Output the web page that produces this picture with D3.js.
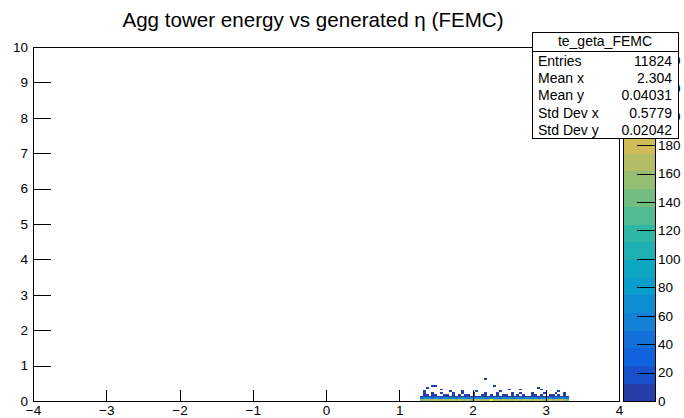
<!DOCTYPE html>
<html>
<head>
<meta charset="utf-8">
<script src="https://cdn.jsdelivr.net/npm/d3@7"></script>
<style>
  body { margin: 0; background: #fff; }
  svg { display: block; }
  text { font-family: "Liberation Sans", Arial, Helvetica, sans-serif; fill: #000; }
</style>
</head>
<body>
<svg id="chart" width="684" height="418"></svg>
<script>
// ---- histogram definition ----
const xDomain = [-4, 4];
const yDomain = [0, 10];
const binW = 0.04;          // eta bin width
const binH = 0.05;          // energy bin width
const xStart = 1.28;        // left edge of the first filled eta column

// counts per eta column (51 columns from 1.28 to 3.32), one array per energy row
const row0 = [148,162,171,155,166,180,159,173,168,152,177,164,158,186,170,161,175,149,169,182,163,157,174,166,249,160,171,153,179,165,168,158,183,172,150,176,164,169,155,181,162,174,159,167,185,156,170,163,178,152,141];
const row1 = [46,58,52,61,49,66,55,43,70,57,51,63,48,59,67,54,45,62,71,50,56,64,47,60,53,68,58,44,65,52,57,61,49,72,55,46,63,59,51,66,48,58,62,54,69,45,60,53,57,50,41];
const row2 = [6,3,8,4,1,5,7,2,6,9,3,5,4,8,2,6,5,7,3,4,9,6,2,5,8,4,6,3,7,5,2,8,6,4,5,3,7,9,4,6,2,5,8,3,6,4,7,5,3,6,2];
const row3 = [0,2,1,0,3,1,0,0,2,1,0,1,0,2,0,1,3,0,1,0,0,2,1,0,1,0,2,0,1,1,0,3,0,1,0,2,0,0,1,2,0,1,0,0,2,1,0,1,0,1,0];
const row4 = [0,1,0,0,1,0,0,1,0,0,0,1,0,0,1,0,0,0,1,0,0,0,1,0,0,0,1,0,0,0,0,1,0,0,1,0,0,0,1,0,0,0,1,0,0,0,1,0,0,1,0];
const rows = [row0, row1, row2, row3, row4];

// isolated entries higher up: [eta bin left edge, energy bin bottom, count]
const strays = [
  [2.16, 0.60, 1], [1.44, 0.40, 1], [1.48, 0.40, 1], [1.36, 0.35, 1],
  [2.28, 0.40, 1], [2.88, 0.35, 1], [1.56, 0.30, 1], [2.48, 0.30, 1],
  [2.92, 0.30, 1], [3.16, 0.25, 1], [1.32, 0.25, 1], [2.04, 0.25, 1],
  [1.84, 0.25, 1], [2.64, 0.30, 1], [1.68, 0.25, 1], [2.36, 0.25, 1]
];

const titleText = "Agg tower energy vs generated \u03b7 (FEMC)";
const statsTitle = "te_geta_FEMC";
const statsLabels = ["Entries", "Mean x", "Mean y", "Std Dev x", "Std Dev y"];
const statsValues = ["11824", "2.304", "0.04031", "0.5779", "0.02042"];
const xTicks = d3.range(-4, 5, 1);
const yTicks = d3.range(0, 11, 1);
const nLevels = 20;

// ---- layout ----
const svg = d3.select("#chart");
const L = 33, R = 619, T = 47, B = 401;
const palL = 623, palR = 655;

const x = d3.scaleLinear().domain(xDomain).range([L, R]);
const y = d3.scaleLinear().domain(yDomain).range([B, T]);

// bird palette stops
const birdR = [0.2082, 0.0592, 0.0780, 0.0232, 0.1802, 0.5301, 0.8186, 0.9956, 0.9764];
const birdG = [0.1664, 0.3599, 0.5041, 0.6419, 0.7178, 0.7492, 0.7328, 0.7862, 0.9832];
const birdB = [0.5293, 0.8684, 0.8385, 0.7914, 0.6425, 0.4662, 0.3499, 0.1968, 0.0539];
function bird(t) {
  const s = t * (birdR.length - 1);
  const i = Math.min(Math.floor(s), birdR.length - 2);
  const f = s - i;
  const c = a => Math.round(255 * (a[i] + (a[i + 1] - a[i]) * f));
  return `rgb(${c(birdR)},${c(birdG)},${c(birdB)})`;
}

// cells
const cells = [];
rows.forEach((r, j) => r.forEach((c, i) => {
  if (c > 0) cells.push({ x0: xStart + i * binW, y0: j * binH, c });
}));
strays.forEach(([sx, sy, c]) => cells.push({ x0: sx, y0: sy, c }));

const zMax = d3.max(cells, d => d.c);
const z = d3.scaleLinear().domain([0, zMax]).range([B, T]);
const levelW = zMax / nLevels;
function levelColor(k) {
  const idx = Math.floor((k + 0.99) * 255 / nLevels);
  return bird(Math.min(idx, 254) / 254);
}
function cellColor(c) {
  const k = Math.min(Math.floor(c / levelW), nLevels - 1);
  return levelColor(k);
}

// title
svg.append("text")
  .attr("x", 313).attr("y", 27)
  .attr("text-anchor", "middle")
  .style("font-size", "20.6px")
  .text(titleText);

// histogram cells
svg.append("g").attr("shape-rendering", "crispEdges")
  .selectAll("rect").data(cells).join("rect")
  .attr("x", d => x(d.x0))
  .attr("y", d => y(d.y0 + binH))
  .attr("width", d => x(d.x0 + binW) - x(d.x0))
  .attr("height", d => y(d.y0) - y(d.y0 + binH))
  .attr("fill", d => cellColor(d.c));

// axes
const minorX = d3.range(-4, 4.0001, 0.2).map(v => +v.toFixed(2));
const minorY = d3.range(0, 10.0001, 0.2).map(v => +v.toFixed(2));
const fontSz = "13.5px";
const fmt = d => (d < 0 ? "\u2212" + Math.abs(d) : String(d));

const gx = svg.append("g").attr("transform", `translate(0,${B})`);
gx.call(d3.axisBottom(x).tickValues(minorX).tickSize(-5.3).tickFormat(""));
gx.call(d3.axisBottom(x).tickValues(xTicks).tickSize(-10.6).tickPadding(4).tickFormat(fmt));
gx.selectAll(".domain").remove();
gx.selectAll("text").style("font-size", fontSz);

const gy = svg.append("g").attr("transform", `translate(${L},0)`);
gy.call(d3.axisLeft(y).tickValues(minorY).tickSize(-8.8).tickFormat(""));
gy.call(d3.axisLeft(y).tickValues(yTicks).tickSize(-17.6).tickPadding(5).tickFormat(fmt));
gy.selectAll(".domain").remove();
gy.selectAll("text").style("font-size", fontSz);

svg.selectAll(".tick line").attr("stroke", "#000").attr("stroke-width", 1)
  .attr("shape-rendering", "crispEdges");

// frame
svg.append("rect")
  .attr("x", L).attr("y", T).attr("width", R - L).attr("height", B - T)
  .attr("fill", "none").attr("stroke", "#000").attr("stroke-width", 1)
  .attr("shape-rendering", "crispEdges");

// colour palette
const levels = d3.range(nLevels);
svg.append("g").attr("shape-rendering", "crispEdges")
  .selectAll("rect").data(levels).join("rect")
  .attr("x", palL)
  .attr("y", k => z((k + 1) * levelW))
  .attr("width", palR - palL)
  .attr("height", k => z(k * levelW) - z((k + 1) * levelW) + 0.5)
  .attr("fill", k => levelColor(k));
svg.append("rect")
  .attr("x", palL).attr("y", T).attr("width", palR - palL).attr("height", B - T)
  .attr("fill", "none").attr("stroke", "#000").attr("stroke-width", 1)
  .attr("shape-rendering", "crispEdges");

const gz = svg.append("g").attr("transform", `translate(${palR},0)`);
gz.call(d3.axisRight(z).ticks(12).tickSize(-17.6).tickPadding(3).tickFormat(d => String(d)));
gz.selectAll(".domain").remove();
gz.selectAll(".tick line").attr("stroke", "#000").attr("shape-rendering", "crispEdges");
gz.selectAll("text").style("font-size", fontSz);

// statistics box
const sb = { x: 532, y: 32, w: 146, h: 106 };
const gs = svg.append("g");
gs.append("rect")
  .attr("x", sb.x).attr("y", sb.y).attr("width", sb.w).attr("height", sb.h)
  .attr("fill", "#fff").attr("stroke", "#000").attr("stroke-width", 1)
  .attr("shape-rendering", "crispEdges");
gs.append("line")
  .attr("x1", sb.x).attr("x2", sb.x + sb.w)
  .attr("y1", 51).attr("y2", 51)
  .attr("stroke", "#000").attr("shape-rendering", "crispEdges");
gs.append("text")
  .attr("x", sb.x + sb.w / 2).attr("y", 46)
  .attr("text-anchor", "middle")
  .style("font-size", "14px")
  .text(statsTitle);
statsLabels.forEach((lab, i) => {
  const yy = 65.5 + i * 17.4;
  gs.append("text").attr("x", sb.x + 6).attr("y", yy)
    .style("font-size", "14px").text(lab);
  gs.append("text").attr("x", sb.x + sb.w - 6).attr("y", yy)
    .attr("text-anchor", "end")
    .style("font-size", "14px").text(statsValues[i]);
});
</script>
</body>
</html>
